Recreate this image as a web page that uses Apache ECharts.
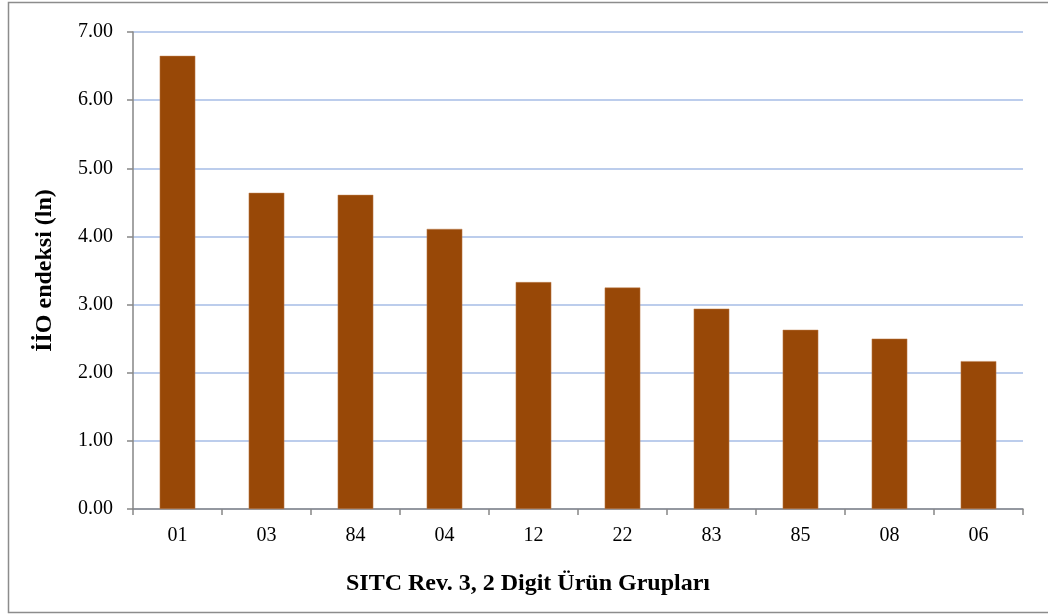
<!DOCTYPE html>
<html><head><meta charset="utf-8">
<script src="https://cdn.jsdelivr.net/npm/echarts@6/dist/echarts.min.js"></script>
<style>html,body{margin:0;padding:0;background:#fff}#c{width:1048px;height:615px}</style>
</head><body><div id="c"></div>
<script>
const categories = ['01','03','84','04','12','22','83','85','08','06'];
const values = [6.65, 4.64, 4.61, 4.11, 3.33, 3.25, 2.94, 2.63, 2.50, 2.17];
const yTicks = {min: 0, max: 7, interval: 1};
const xTitle = 'SITC Rev. 3, 2 Digit Ürün Grupları';
const yTitle = 'İİO endeksi (ln)';

const chart = echarts.init(document.getElementById('c'));
chart.setOption({
  animation: false,
  backgroundColor: '#fff',
  grid: {left: 133, right: 25, top: 32, bottom: 106},
  graphic: [{type: 'rect', shape: {x: 8.5, y: 2.5, width: 1045, height: 610},
    style: {fill: 'none', stroke: '#8c8c8c', lineWidth: 1.5}, silent: true}],
  xAxis: {
    type: 'category', data: categories,
    name: xTitle, nameLocation: 'middle', nameGap: 63,
    nameTextStyle: {fontFamily: 'Liberation Serif', fontSize: 24, fontWeight: 'bold', color: '#000',
      padding: [0, 100, 0, 0]},
    axisLine: {lineStyle: {color: '#868686', width: 1.5}},
    axisTick: {show: true, length: 6, lineStyle: {color: '#868686', width: 1.5}},
    axisLabel: {fontFamily: 'Liberation Serif', fontSize: 20, color: '#000', margin: 17}
  },
  yAxis: {
    type: 'value', min: yTicks.min, max: yTicks.max, interval: yTicks.interval,
    name: yTitle, nameLocation: 'middle', nameGap: 76, nameRotate: 90,
    nameTextStyle: {fontFamily: 'Liberation Serif', fontSize: 24, fontWeight: 'bold', color: '#000'},
    axisLine: {show: true, lineStyle: {color: '#868686', width: 1.5}},
    axisTick: {show: true, length: 6, lineStyle: {color: '#868686', width: 1.5}},
    axisLabel: {fontFamily: 'Liberation Serif', fontSize: 20, color: '#000', margin: 20,
      formatter: v => v.toFixed(2)},
    splitLine: {lineStyle: {color: '#a6bce6', width: 1.5}}
  },
  series: [{
    type: 'bar', data: values, barWidth: '40%',
    itemStyle: {color: '#984807', borderColor: '#c08050', borderWidth: 0.5}
  }]
});
</script></body></html>
